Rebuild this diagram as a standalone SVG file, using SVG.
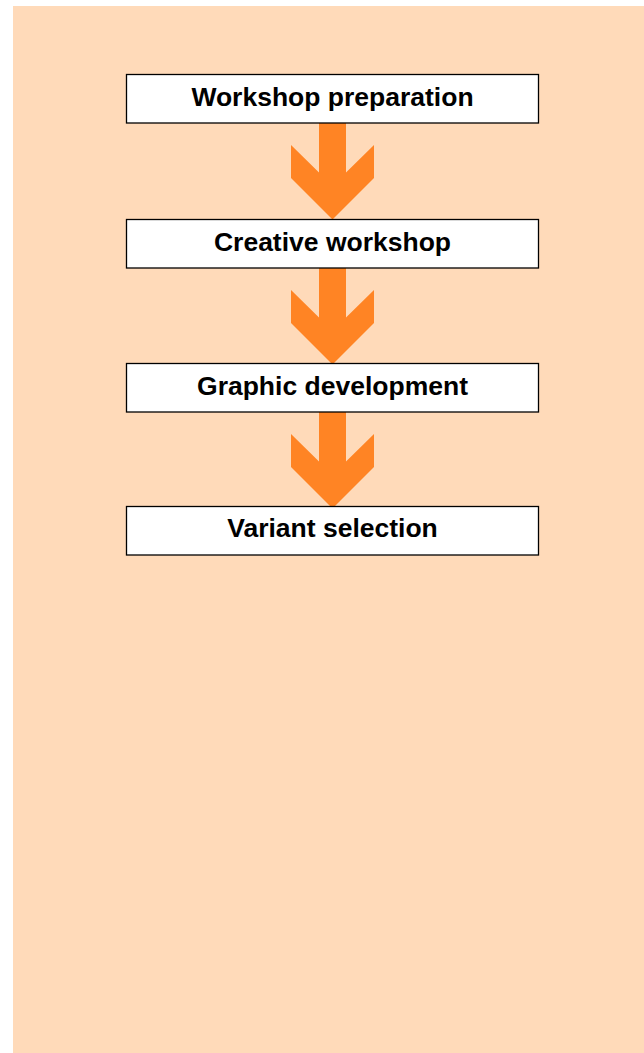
<svg xmlns="http://www.w3.org/2000/svg" width="644" height="1053" viewBox="0 0 644 1053">
<style>
.box{fill:#ffffff;stroke:#000000;stroke-width:1.3}
.lbl{font-family:"Liberation Sans",Arial,sans-serif;font-weight:bold;font-size:26.5px;fill:#000000;text-anchor:middle}
.arr{fill:#FF8424}
</style>
<rect x="13" y="6" width="631" height="1047" fill="#FFDAB9"/>
<g id="connectors">
<polygon class="arr" points="319,123 346,123 346,172.5 374,145 374,178 332.5,219.5 291,178 291,145 319,172.5"/>
<polygon class="arr" points="319,268 346,268 346,317.5 374,290 374,323 332.5,364.5 291,323 291,290 319,317.5"/>
<polygon class="arr" points="319,412 346,412 346,461.5 374,434 374,467 332.5,508.5 291,467 291,434 319,461.5"/>
</g>
<g id="node1"><rect class="box" x="126.5" y="74.5" width="412" height="48.5"/><text class="lbl" x="332.5" y="106">Workshop preparation</text></g>
<g id="node2"><rect class="box" x="126.5" y="219.5" width="412" height="48.5"/><text class="lbl" x="332.5" y="250.5">Creative workshop</text></g>
<g id="node3"><rect class="box" x="126.5" y="363.5" width="412" height="48.5"/><text class="lbl" x="332.5" y="394.5">Graphic development</text></g>
<g id="node4"><rect class="box" x="126.5" y="506.5" width="412" height="48.5"/><text class="lbl" x="332.5" y="537">Variant selection</text></g>
</svg>
